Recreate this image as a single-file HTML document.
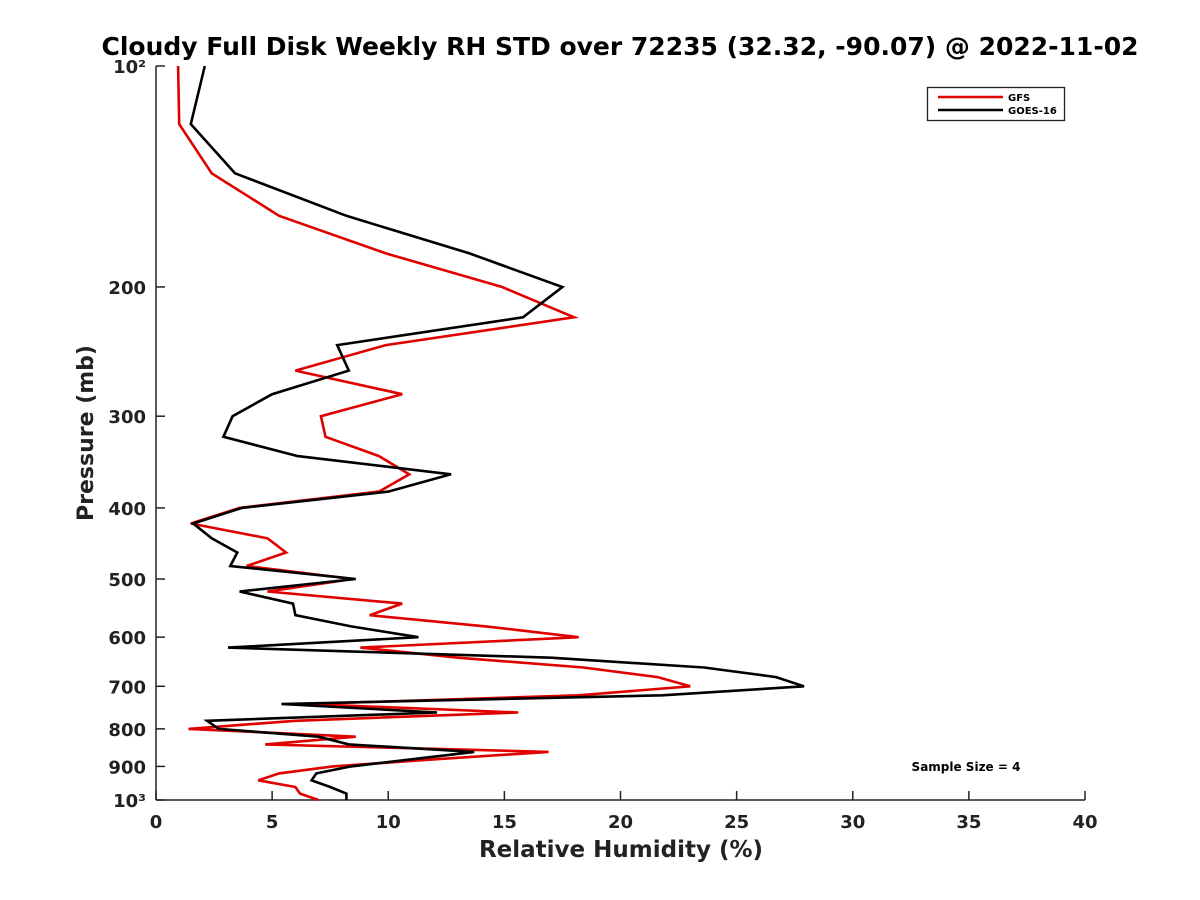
<!DOCTYPE html>
<html><head><meta charset="utf-8"><style>
body{margin:0;background:#fff;}
svg{display:block;font-family:"DejaVu Sans","Liberation Sans",sans-serif;}
</style></head><body>
<svg id="chart" width="1200" height="900" xmlns="http://www.w3.org/2000/svg">
<rect width="1200" height="900" fill="#fff"/>
<text x="620" y="55" text-anchor="middle" font-size="25" font-weight="bold" fill="#000">Cloudy Full Disk Weekly RH STD over 72235 (32.32, -90.07) @ 2022-11-02</text>
<g id="axes"></g>
<g id="series"></g>
<g>
<rect x="927.5" y="87.5" width="137" height="33" fill="#fff" stroke="#222" stroke-width="1.3"/>
<line x1="938" y1="97" x2="1003" y2="97" stroke="#e00000" stroke-width="2.5"/>
<text x="1008" y="101" font-size="10" font-weight="bold">GFS</text>
<line x1="938" y1="110" x2="1003" y2="110" stroke="#000" stroke-width="2.5"/>
<text x="1008" y="114" font-size="10" font-weight="bold">GOES-16</text>
</g>
<text x="966" y="771" text-anchor="middle" font-size="12" font-weight="bold">Sample Size = 4</text>
<text x="621" y="857" text-anchor="middle" font-size="23" font-weight="bold" fill="#222">Relative Humidity (%)</text>
<text transform="translate(93,433) rotate(-90)" text-anchor="middle" font-size="22" font-weight="bold" fill="#222">Pressure (mb)</text>
</svg>
<script>
const pressures=[100,120,140,160,180,200,220,240,260,280,300,320,340,360,380,400,420,440,460,480,500,520,540,560,580,600,620,640,660,680,700,720,740,760,780,800,820,840,860,880,900,920,940,960,980,1000];
const gfsRH=[0.95,1.0,2.4,5.3,9.9,14.9,18.0,9.9,6.0,10.6,7.1,7.3,9.6,10.9,9.6,3.6,1.5,4.8,5.6,3.9,8.5,4.8,10.6,9.2,14.2,18.2,8.8,13.0,18.4,21.6,23.0,18.2,6.5,15.6,6.0,1.4,8.6,4.7,16.9,12.0,7.6,5.3,4.4,6.0,6.2,7.0];
const goesRH=[2.1,1.5,3.4,8.2,13.5,17.5,15.8,7.8,8.3,5.0,3.3,2.9,6.1,12.7,10.0,3.7,1.6,2.4,3.5,3.2,8.6,3.6,5.9,6.0,8.4,11.3,3.1,17.0,23.6,26.7,27.9,21.8,5.4,12.1,2.2,2.7,7.0,8.3,13.7,11.0,8.4,6.9,6.7,7.5,8.2,8.2];
const xTicks=[0,5,10,15,20,25,30,35,40];
const yTicks=[100,200,300,400,500,600,700,800,900,1000];
const yTickLabels=["10²","200","300","400","500","600","700","800","900","10³"];

const L=156,R=1085,T=66,B=800;
const xs=v=>L+(v-0)/(40-0)*(R-L);
const ys=p=>T+(Math.log10(p)-2)*(B-T);
const NS="http://www.w3.org/2000/svg";
function mk(tag,attrs,parent){const e=document.createElementNS(NS,tag);for(const k in attrs)e.setAttribute(k,attrs[k]);parent.appendChild(e);return e;}
const ax=document.getElementById('axes');
let l=mk('line',{x1:L,y1:B,x2:R,y2:B,stroke:'#222','stroke-width':1.5},ax);


l=mk('line',{x1:L,y1:T,x2:L,y2:B,stroke:'#222','stroke-width':1.5},ax);


xTicks.forEach(v=>{
  const x=xs(v);
  const t=mk('line',{x1:x,y1:B,x2:x,y2:B-9,stroke:'#222','stroke-width':1.5},ax);
  
  
  const tx=mk('text',{x:x,y:B+28,'text-anchor':'middle','font-size':18,'font-weight':'bold',fill:'#222'},ax);
  tx.textContent=v;
  
  
});
yTicks.forEach((p,i)=>{
  const y=ys(p);
  const t=mk('line',{x1:L,y1:y,x2:L+9,y2:y,stroke:'#222','stroke-width':1.5},ax);
  
  
  const tx=mk('text',{x:L-10,y:y+7,'text-anchor':'end','font-size':18,'font-weight':'bold',fill:'#222'},ax);
  tx.textContent=yTickLabels[i];
  
  
});
const sg=document.getElementById('series');
function drawLine(vals,color,name){
  const pts=vals.map((v,i)=>xs(v).toFixed(1)+','+ys(pressures[i]).toFixed(1)).join(' ');
  const pl=mk('polyline',{points:pts,fill:'none',stroke:color,'stroke-width':2.6,'stroke-linejoin':'miter'},sg);
  
  
}
drawLine(gfsRH,'#e00000','gfs-line');
drawLine(goesRH,'#000','goes-16-line');
</script>
</body></html>
